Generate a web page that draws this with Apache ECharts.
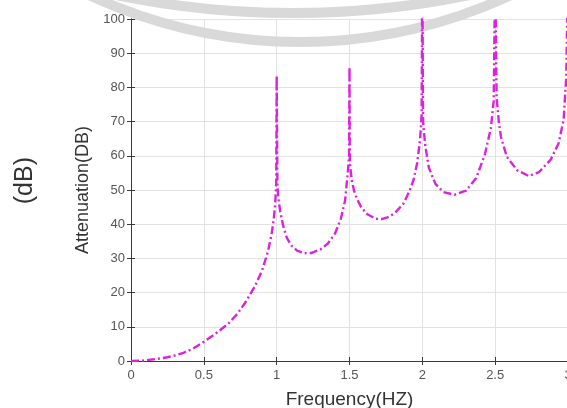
<!DOCTYPE html>
<html>
<head>
<meta charset="utf-8">
<script src="https://cdn.jsdelivr.net/npm/echarts@6/dist/echarts.min.js"></script>
<style>
html,body{margin:0;padding:0;background:#fff;}
#main{width:567px;height:408px;}
</style>
</head>
<body>
<div id="main"></div>
<script>
// frequency (HZ)
var freq = [
    0, 0.07, 0.13, 0.2, 0.25, 0.3, 0.36, 0.42, 0.5, 0.6, 0.67, 0.73, 0.78, 0.85, 0.9, 0.94, 0.965, 0.98, 0.99, 0.997,
    1.0, 1.005, 1.012, 1.025, 1.045, 1.07, 1.1, 1.14, 1.19, 1.24, 1.3, 1.35, 1.4, 1.44, 1.47, 1.488, 1.497,
    1.5, 1.502, 1.515, 1.53, 1.55, 1.58, 1.62, 1.68, 1.72, 1.76, 1.81, 1.87, 1.91, 1.94, 1.965, 1.985, 1.995,
    2.0, 2.005, 2.02, 2.045, 2.09, 2.145, 2.22, 2.3, 2.37, 2.43, 2.47, 2.49,
    2.5, 2.51, 2.525, 2.54, 2.58, 2.65, 2.73, 2.8, 2.88, 2.935, 2.97, 2.988, 3.0
];
// attenuation (dB), peaks above 100 are cut by the axis
var attenuation = [
    0, 0.1, 0.35, 0.75, 1.1, 1.6, 2.4, 3.5, 5.6, 8.6, 11, 13.8, 16.8, 21.8, 26.5, 32, 37, 41.5, 46, 52,
    83.5, 52, 47.5, 43.5, 39.5, 36, 33.8, 32.3, 31.5, 31.6, 32.6, 34.3, 37.2, 41.5, 47, 55, 60,
    86, 58, 53, 50, 47.5, 45, 43, 41.6, 41.5, 42, 43.2, 46, 49.5, 53, 58, 65, 72,
    115, 70, 63, 56.5, 51.8, 49.4, 48.6, 49.8, 53.5, 60.5, 68, 76,
    115, 77, 70, 65.5, 59.7, 55.8, 54.1, 55.2, 58.8, 63.6, 70.5, 83, 115
];
var xTicks = [0, 0.5, 1, 1.5, 2, 2.5, 3];
var yTicks = [0, 10, 20, 30, 40, 50, 60, 70, 80, 90, 100];

var chart = echarts.init(document.getElementById('main'));

var points = [];
for (var i = 0; i < freq.length; i++) {
    points.push([freq[i], attenuation[i]]);
}

var labelColor = '#555';
var lineColor = '#3a3a3a';
var gridColor = '#e2e2e2';

function boxAxis(pos, min, max, step) {
    // mirrored axis for the closed box, ticks inside, no labels
    return {
        type: 'value', position: pos, min: min, max: max, interval: step,
        axisLine: {show: true, lineStyle: {color: lineColor, width: 1}},
        axisTick: {show: true, inside: true, length: 4, lineStyle: {color: lineColor}},
        axisLabel: {show: false},
        splitLine: {show: false}
    };
}

// watermark rings at the top edge (only their lower rims are on the page)
function ring(cx, cy, r) {
    return {
        type: 'circle', z: 1, silent: true,
        shape: {cx: cx, cy: cy, r: r},
        style: {stroke: '#d9d9d9', lineWidth: 10, fill: 'none'}
    };
}

var option = {
    backgroundColor: '#fff',
    animation: false,
    textStyle: {fontFamily: 'Liberation Sans, Arial, sans-serif'},
    grid: {left: 131, right: -1, top: 19, bottom: 47, outerBoundsMode: 'none', containLabel: false},
    xAxis: [{
        type: 'value', position: 'bottom',
        min: xTicks[0], max: xTicks[xTicks.length - 1], interval: xTicks[1] - xTicks[0],
        name: 'Frequency(HZ)', nameLocation: 'middle', nameGap: 29,
        nameTextStyle: {color: '#333', fontSize: 19},
        axisLine: {show: true, lineStyle: {color: lineColor, width: 1}},
        axisTick: {show: true, inside: true, length: 4, lineStyle: {color: lineColor}},
        axisLabel: {color: labelColor, fontSize: 13, margin: 8},
        splitLine: {show: true, lineStyle: {color: gridColor, width: 1}}
    }, boxAxis('top', 0, 3, 0.5)],
    yAxis: [{
        type: 'value', position: 'left',
        min: yTicks[0], max: yTicks[yTicks.length - 1], interval: yTicks[1] - yTicks[0],
        name: 'Attenuation(DB)', nameLocation: 'middle', nameGap: 34,
        nameTextStyle: {color: '#333', fontSize: 18},
        axisLine: {show: true, lineStyle: {color: lineColor, width: 1}},
        axisTick: {show: true, inside: true, length: 4, lineStyle: {color: lineColor}},
        axisLabel: {color: labelColor, fontSize: 13, margin: 6},
        splitLine: {show: true, lineStyle: {color: gridColor, width: 1}}
    }, boxAxis('right', 0, 100, 10)],
    graphic: [
        ring(300, -455, 497),
        ring(293, -859, 872),
        {type: 'text', left: 13, top: 157, rotation: Math.PI / 2, silent: true,
         style: {text: '(dB)', fill: '#333', font: '25px Liberation Sans, Arial, sans-serif'}}
    ],
    series: [{
        type: 'line',
        data: points,
        showSymbol: false,
        clip: true,
        z: 3,
        lineStyle: {color: '#dd22dd', width: 2.4, type: [8, 3, 2, 3]}
    }]
};

chart.setOption(option);
</script>
</body>
</html>
